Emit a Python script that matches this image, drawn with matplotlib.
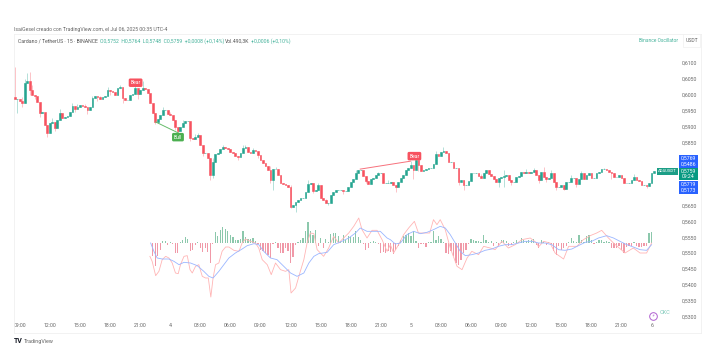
import matplotlib
matplotlib.use("Agg")
import matplotlib.pyplot as plt
from matplotlib.patches import Rectangle

W, H = 722, 357

GREEN = "#26a590"
RED = "#f7525f"
BLUE = "#2962ff"

first_open = 0.5992

closes = [
    .5986, .5986, .5980, .5974, .6037, .6043, .6015, .5999, .5996, .5977, .5942, .5945,
    .5904, .5879, .5910, .5914, .5895, .5920, .5942, .5926, .5929, .5933, .5945, .5964,
    .5955, .5961, .5967, .5964, .5961, .5951, .5961, .5989, .5996, .5993, .5986, .5993,
    .5996, .6015, .6012, .6008, .5999, .6021, .6024, .5989, .5983, .5983, .5999, .6002,
    .6021, .6002, .6015, .6021, .6018, .6005, .5974, .5942, .5914, .5923, .5936, .5951,
    .5951, .5939, .5936, .5920, .5898, .5885, .5898, .5910, .5917, .5917, .5863, .5860,
    .5866, .5872, .5841, .5816, .5816, .5800, .5746,
    .5787, .5812, .5816, .5828, .5835, .5831, .5828, .5819, .5816, .5806, .5803, .5816,
    .5831, .5835, .5819, .5816, .5825, .5822, .5809, .5793, .5784, .5775, .5762, .5730,
    .5765, .5765, .5746, .5721, .5718, .5714, .5708, .5645, .5651, .5661, .5667, .5673,
    .5673, .5692, .5718, .5721, .5696, .5699, .5714, .5673, .5667, .5658, .5658, .5683,
    .5692, .5699, .5699, .5699, .5696, .5696, .5708, .5724, .5733, .5752, .5762, .5762,
    .5743, .5727, .5718, .5733, .5737, .5746, .5752, .5752, .5721, .5721, .5721, .5724,
    .5714, .5708, .5724,
    .5737, .5746, .5762, .5768, .5778, .5762, .5793, .5778, .5759, .5762, .5765, .5768,
    .5768, .5781, .5812, .5806, .5819, .5822, .5816, .5787, .5787, .5768, .5768, .5724,
    .5730, .5714, .5714, .5727, .5752, .5752, .5752, .5743, .5737, .5752, .5762, .5749,
    .5743, .5733, .5724, .5737, .5740, .5743, .5746, .5730, .5724, .5724, .5740, .5743,
    .5756, .5752, .5756, .5752, .5756, .5762, .5746, .5730, .5756, .5740, .5733, .5737,
    .5752, .5724, .5708, .5708, .5714, .5702, .5724, .5724, .5737, .5737, .5718, .5733,
    .5752, .5733, .5746, .5752, .5737, .5737, .5752, .5756, .5765, .5765, .5762, .5756,
    .5752, .5740, .5740, .5746, .5737, .5721, .5721, .5721, .5730, .5740, .5730, .5727,
    .5714, .5714, .5711, .5721, .5752, .5759,
]

# only the wicks that can be made out on the picture
highs = {
    0: .6087, 3: .5992, 4: .6050, 5: .6068, 6: .6072, 7: .6030, 9: .5990, 12: .5925, 15: .5925,
    18: .5955, 23: .5975, 25: .5972, 28: .5970, 31: .5995, 34: .5997, 37: .6024, 42: .6032,
    48: .6040, 51: .6043, 54: .5990, 59: .5960, 62: .5945, 67: .5920, 72: .5875, 73: .5880,
    79: .5800, 83: .5842, 91: .5840, 92: .5842, 95: .5832, 102: .5775, 104: .5772, 110: .5715,
    117: .5730, 121: .5722, 124: .5670, 136: .5762, 145: .5757, 149: .5730, 158: .5790,
    160: .5800, 168: .5822, 171: .5835, 175: .5780, 186: .5750, 195: .5762, 204: .5765,
    207: .5768, 211: .5771, 214: .5762, 222: .5745, 226: .5758, 235: .5770, 247: .5748,
}
lows = {
    1: .5942, 3: .5960, 6: .6000, 8: .5985, 10: .5930, 13: .5866, 16: .5885, 24: .5945, 29: .5940,
    33: .5980, 38: .6000, 43: .5975, 49: .5985, 56: .5908, 57: .5910, 64: .5890, 65: .5875,
    70: .5855, 75: .5805, 78: .5730, 79: .5737, 89: .5795, 97: .5800, 102: .5720, 103: .5699,
    110: .5642, 112: .5629, 119: .5690, 125: .5650, 131: .5685, 140: .5720, 152: .5692,
    159: .5735, 161: .5760, 177: .5715, 179: .5700, 193: .5710, 195: .5708, 198: .5715,
    209: .5722, 212: .5725, 216: .5700, 219: .5699, 224: .5710, 238: .5735, 252: .5705,
}

hist_start = 55
hist_vals = [
    -40, -68, -38, -22, 5, 7, -5, 3, -2, -30, -30, 2, 8, 18, 12, -25, -22, -5, 4, -15,
    -28, -15, -28, -60, -2, 32, 22, 38, 48, 42, 35, 25, 18, 8, 8, 12, 35, 18, 12, 12,
    15, 5, -2, -20, -25, -30, -35, -45, -3, 3, -15, -30, -30, -15, -25, -60, -42, -5, 3, 10,
    15, 35, 63, 35, 25, 40, -8, 15, -15, 12, 3, 28, 30, 30, 22, 5, 25, 8, 20, 18,
    18, 35, 18, 8, -3, -20, -15, 2, 5, 3, -3, -30, -28, -30, -25, -28, -32, -20, -8, 10,
    20, 25, 30, 22, 35, 5, -15, -3, -2, -12, 2, 2, 35, 10, 22, 12, 3, -30, -32, -25,
    -38, -60, -65, -50, -30, -20, -3, 12, 10, 5, 5, 3, 25, 8, 3, 5, -8, 3, -10, 8,
    10, 5, -10, -5, 3, 8, 3, 15, 10, 5, 8, 10, 12, -5, -15, 8, 3, -5, 3, -3,
    -25, -35, -10, -22, -15, -10, 2, 15, 5, 3, 25, 8, 3, 20, 25, 10, -3, 3, 10, 10,
    3, 5, 3, -15, -15, -15, -10, -20, -30, -12, -10, -8, 3, -10, -12, -12, -10, -8, 30, 33,
]

macd_bars = [
    53.9, 54.8, 56.2, 57.5, 58.8, 60.2, 61.5, 62.8, 64.1, 65.2, 66.1, 67.5, 68.8, 69.9, 70.8, 72.1,
    73.4, 74.8, 76.1, 77.2, 78.2, 79.1, 80.1, 81.4, 82.7, 84.1, 85.4, 87.4, 89.4, 90.7, 92, 94, 96,
    97.3, 98.7, 100.7, 102.3, 104, 106, 108, 109.3, 110.2, 112, 113.9, 115.3, 116.6, 117.9, 119.3,
    120.6, 121.9, 123.2, 125.2, 127.2, 129.2, 130.5, 133.2, 135.2, 137.2, 138.5, 140.5, 142.5, 144.5,
    146.5, 148.5, 149.8, 151.1, 153.1, 155.1, 157.1, 159.4, 161, 163.1, 165.5, 167, 168.4, 169.7,
    171.7, 173.7, 176.4, 178.4, 180.4, 182.3, 185, 187, 189.6, 191.6, 194.3, 196.9, 199.6, 202.3,
    205.6, 208.2, 208.9, 210.9, 213.5, 215.5, 218.9, 220.9, 224.2, 226.8, 229.5, 232.1, 234.1, 236.8,
    238.8, 243.4, 246.7, 249.4, 252, 254,
]
macd_vals = [
    -40, -55, -98, -85, -50, -40, -45, -60, -90, -92, -65, -40, -38, -80, -90, -70,
    -65, -100, -105, -105, -162, -105, -65, -60, -25, -12, -12, -22, -25, 0, 12, 5, 0,
    -15, -50, -65, -95, -60, -80, -85, -80, -150, -135, -85, -50, 0, 30, 28,
    -20, -30, -40, -15, 20, 0, 10, 30, 50, 75, 40, 15, 38, 38,
    10, -25, -5, -30, -5, 25, 45, 65, 30, 30, 30, 70, 55, 70,
    40, -15, -70, -80, -45, -25, -35, -10, -15, -20, 5, -15, -5, 10,
    15, 0, -12, 5, 0, -30, -48, -10, -10, 10, 22, 30, 38, 15,
    0, -30, -15, -30, -30, 0,
]

signal_bars = [
    54.2, 55.5, 56.8, 58.8, 61.5, 63.5, 65.5, 67.5, 70.1, 72.8, 75.4, 77.4, 79.1, 81.4, 83.4, 85.4,
    88, 90.7, 92.7, 95.4, 97.3, 99.3, 102, 104.6, 107.3, 110, 112.6, 115.3, 117.3, 119.3, 121.2,
    124.6, 127.2, 129.9, 133.2, 135.9, 137.8, 140.5, 143.2, 145.8, 148.5, 149.8, 151.8, 153.8, 156.4,
    159.1, 161.8, 164.4, 167, 169.7, 171.7, 173.7, 175.7, 177.7, 179.7, 182.3, 185, 187.6, 190.3,
    192.9, 195.6, 198.3, 200.9, 203.6, 206.2, 208.9, 211.6, 214.2, 216.9, 219.5, 222.2, 224.8, 227.5,
    230.1, 232.8, 236.1, 238.8, 241.4, 244.1, 246.7, 249.4, 252, 254,
]
signal_vals = [
    0, -25, -45, -48, -48, -55, -65, -58, -60, -68, -85, -100, -105, -85, -65, -45,
    -30, -18, -8, -2, -5, -25, -45, -50, -70, -90, -100, -90, -60, -40, -32,
    -28, -5, 3, 15, 30, 45, 35, 35, 35, 15, 10, -3, 0, 25,
    35, 28, 32, 40, 50, 45, 25, 0, -25, -38, -35, -30, -22, -18,
    -10, -5, -5, 0, 5, 5, 0, 0, -5, -20, -22, -18, -8, 2,
    5, 15, 22, 15, 5, -5, -12, -20, -22, -5,
]

price_ticks = [.6100, .6050, .6000, .5950, .5900, .5850, .5650, .5600, .5550, .5500, .5450, .5400, .5350, .5300]
time_tick_bars = list(range(2, 255, 12))
time_labels = ["09:00", "12:00", "15:00", "18:00", "21:00", "4", "03:00", "06:00", "09:00", "12:00", "15:00",
               "18:00", "21:00", "5", "03:00", "06:00", "09:00", "12:00", "15:00", "18:00", "21:00", "6"]

bull_line = ([56.2, 65.3], [.5914, .5879])
bear_line = ([137.8, 157.8], [.5765, .5790])

plt.rcParams["font.family"] = ["Roboto", "DejaVu Sans"]


def px_text(fig, x, y, s, **kw):
    kw.setdefault("fontsize", 3.7)
    kw.setdefault("va", "center")
    fig.text(x / W, 1 - y / H, s, **kw)


def px_rect(fig, x0, y0, x1, y1, **kw):
    fig.add_artist(Rectangle((x0 / W, 1 - y1 / H), (x1 - x0) / W, (y1 - y0) / H,
                             transform=fig.transFigure, **kw))


def draw_candles(ax):
    opens = [first_open] + closes[:-1]
    for i, (o, c) in enumerate(zip(opens, closes)):
        col = GREEN if c >= o else RED
        hi = highs.get(i, max(o, c))
        lo = lows.get(i, min(o, c))
        ax.vlines(i, lo, hi, color=col, lw=0.7, alpha=0.35, zorder=2)
        ax.bar(i, abs(c - o), bottom=min(o, c), width=0.72, color=col, edgecolor=col, lw=0.4, zorder=3)


def draw_oscillator(osc):
    for i, v in enumerate(hist_vals):
        col = "#8cc8ac" if v >= 0 else "#f099a8"
        osc.bar(hist_start + i, v, width=0.5, color=col, lw=0)
    osc.plot(macd_bars, macd_vals, color="#ffb5b5", lw=0.6)
    osc.plot(signal_bars, signal_vals, color="#9ab6ff", lw=0.6)


def main():
    fig = plt.figure(figsize=(W / 100, H / 100), dpi=100)
    box = [14 / W, 1 - 333 / H, 687 / W, 299 / H]
    xmax = 687 / 2.51
    ax = fig.add_axes(box)
    ax.set_xlim(-0.3, xmax)
    ax.set_ylim(.5247, .6192)
    for s in ax.spines.values():
        s.set_color("#f0f0f0")
        s.set_linewidth(0.6)

    ax.yaxis.tick_right()
    ax.set_yticks(price_ticks)
    ax.set_yticklabels([f"{p:.4f}".replace(".", ",") for p in price_ticks], fontsize=3.7, color="#666666")
    ax.tick_params(axis="y", length=0, pad=-14, direction="in")
    ax.set_xticks(time_tick_bars)
    ax.set_xticklabels(time_labels, fontsize=3.7, color="#666666")
    ax.tick_params(axis="x", length=0, pad=-7, direction="in")

    osc = fig.add_axes(box, sharex=ax)
    osc.set_ylim(-270, 627)
    osc.patch.set_alpha(0)
    osc.axis("off")
    draw_oscillator(osc)

    draw_candles(ax)
    ax.plot(*bull_line, color="#66bb6a", lw=0.7, zorder=4)
    ax.plot(*bear_line, color="#f7717c", lw=0.7, zorder=4)
    ax.set_xlim(-0.3, xmax)

    # Bull / Bear tags
    for x, y, s, col in [(48.2, .6038, "Bear", "#f7525f"), (65.1, .5866, "Bull", "#4caf50"),
                         (159.4, .5806, "Bear", "#f7525f")]:
        ax.text(x, y, s, color="white", fontsize=3.6, ha="center", va="center", zorder=5,
                bbox=dict(boxstyle="round,pad=0.35,rounding_size=0.3", fc=col, ec="none"))

    px_text(fig, 14, 29, "IsaiGesel creado con TradingView.com, el Jul 06, 2025 00:35 UTC-4", color="#666666")
    px_text(fig, 18, 41, "Cardano / TetherUS · 15 · BINANCE", color="#555555")
    px_text(fig, 100, 41, "O0,5752  H0,5764  L0,5748  C0,5759  +0,0008 (+0,14%)", color="#45b29b")
    px_text(fig, 225, 41, "Vol.490,3K", color="#555555")
    px_text(fig, 251, 41, "+0,0006 (+0,10%)", color="#45b29b")
    px_text(fig, 639, 41, "Binance Oscillator", color="#45b29b", fontsize=3.5)

    px_rect(fig, 683, 34, 700, 47, fc="white", ec="#f0f0f0", lw=0.5)
    px_text(fig, 691.5, 41, "USDT", color="#666666", ha="center")

    # price tags on the right
    px_rect(fig, 657, 168, 678, 174.5, fc="#1b9e86", ec="none")
    px_text(fig, 667.5, 171.3, "ADAUSDT", color="white", ha="center", fontsize=3.1)
    px_rect(fig, 679, 155, 698, 168, fc=BLUE, ec="none")
    px_text(fig, 688.5, 158.5, "0,5769", color="white", ha="center")
    px_text(fig, 688.5, 164.5, "0,5486", color="white", ha="center")
    px_rect(fig, 679, 168, 698, 180, fc="#089981", ec="none")
    px_text(fig, 688.5, 171, "0,5759", color="white", ha="center")
    px_text(fig, 688.5, 176.5, "09:24", color="white", ha="center")
    px_rect(fig, 679, 181, 698, 194, fc=BLUE, ec="none")
    px_text(fig, 688.5, 184.5, "0,5719", color="white", ha="center")
    px_text(fig, 688.5, 190.5, "0,5173", color="white", ha="center")

    # purple badge and small watermark near the last bar
    ax.plot([254.5], [.5300], marker="o", ms=5.5, mfc="white", mec="#b060d0", mew=0.7, zorder=6)
    ax.text(254.5, .5300, "⚡", color="#b060d0", fontsize=3.2, ha="center", va="center", zorder=7,
            family=["DejaVu Sans"])
    px_text(fig, 665, 312, "CKC", color="#7cc8b8", ha="center", fontsize=4)

    px_text(fig, 14, 341, "TV", color="#131722", fontsize=5, fontweight="bold")
    px_text(fig, 24, 341, "TradingView", color="#666666", fontsize=3.9)

    fig.savefig("out.png", dpi=100, facecolor="white")


if __name__ == "__main__":
    main()
